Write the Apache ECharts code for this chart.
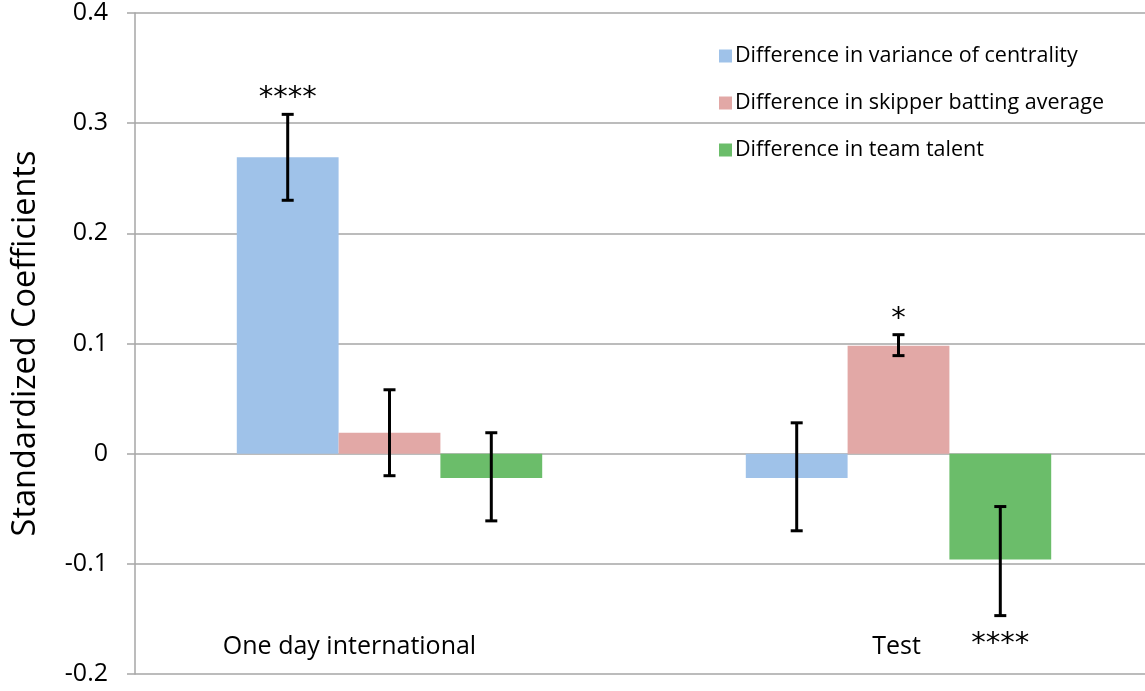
<!DOCTYPE html>
<html><head><meta charset="utf-8">
<script src="https://cdn.jsdelivr.net/npm/echarts@6/dist/echarts.min.js"></script>
<style>html,body{margin:0;padding:0;background:#fff;overflow:hidden}#c{width:1153px;height:691px}</style>
</head><body><div id="c"></div>
<script>
var categories = ['One day international', 'Test'];
var seriesNames = ['Difference in variance of centrality', 'Difference in skipper batting average', 'Difference in team talent'];
var centrality = [0.269, -0.022];
var batting = [0.019, 0.098];
var talent = [-0.022, -0.096];
var centralityErr = [[0.230, 0.308], [-0.070, 0.028]];
var battingErr = [[-0.020, 0.058], [0.089, 0.108]];
var talentErr = [[-0.061, 0.019], [-0.147, -0.048]];
var centralitySig = ['****', ''];
var battingSig = ['', '*'];
var talentSig = ['', '****'];
var yTicks = ['-0.2', '-0.1', '0', '0.1', '0.2', '0.3', '0.4'];

var FONT = '"Open Sans", sans-serif';
var colors = ['#9fc2e9', '#e2a8a6', '#6bbd6a'];
var values = [centrality, batting, talent];
var errs = [centralityErr, battingErr, talentErr];
var sigs = [centralitySig, battingSig, talentSig];
var catGapFrac = 0.40;
var nSeries = 3;

function errSeries(k) {
  var data = errs[k].map(function (e, i) { return [i, e[0], e[1], values[k][i]]; });
  return {
    type: 'custom', name: seriesNames[k] + ' err', z: 10, silent: true,
    data: data,
    encode: { x: 0, y: [1, 2] },
    renderItem: function (params, api) {
      var i = api.value(0);
      var band = api.size([1, 0])[0];
      var bw = band * (1 - catGapFrac) / nSeries;
      var c = api.coord([i, 0])[0] + (k - (nSeries - 1) / 2) * bw;
      var lo = api.coord([i, api.value(1)])[1];
      var hi = api.coord([i, api.value(2)])[1];
      var cap = 6;
      var st = { stroke: '#000', lineWidth: 3 };
      var children = [
        { type: 'line', shape: { x1: c, y1: lo, x2: c, y2: hi }, style: st },
        { type: 'line', shape: { x1: c - cap, y1: lo, x2: c + cap, y2: lo }, style: st },
        { type: 'line', shape: { x1: c - cap, y1: hi, x2: c + cap, y2: hi }, style: st }
      ];
      var s = sigs[k][params.dataIndex];
      if (s) {
        var v = api.value(3);
        var above = v >= 0;
        children.push({
          type: 'text',
          style: {
            text: s, x: c, y: above ? hi - 1 : lo + 14,
            align: 'center', verticalAlign: above ? 'bottom' : 'top',
            fill: '#000', font: '29px "DejaVu Sans"'
          }
        });
      }
      return { type: 'group', children: children };
    }
  };
}

var series = [];
for (var k = 0; k < nSeries; k++) {
  series.push({
    type: 'bar', name: seriesNames[k], data: values[k],
    barGap: '0%', barCategoryGap: (catGapFrac * 100) + '%',
    itemStyle: { color: colors[k] }, silent: true
  });
}
for (var k2 = 0; k2 < nSeries; k2++) series.push(errSeries(k2));

var chart = echarts.init(document.getElementById('c'));
chart.setOption({
  animation: false,
  backgroundColor: '#fff',
  grid: { left: 135, right: 0, top: 13, bottom: 17 },
  legend: {
    data: seriesNames, orient: 'vertical', left: 714, top: 40,
    itemWidth: 13, itemHeight: 13, itemGap: 25,
    icon: 'rect',
    textStyle: { fontFamily: FONT, fontSize: 21.5, color: '#000', padding: [0, 0, 0, -2] }
  },
  xAxis: {
    type: 'category', data: categories,
    axisLine: { show: false }, axisTick: { show: false },
    axisLabel: {
      margin: -40, color: '#000',
      formatter: function (v) { return v === categories[0] ? '{a|' + v + '}' : '{b|' + v + '}'; },
      rich: {
        a: { fontFamily: FONT, fontSize: 25, color: '#000', padding: [0, 80, 0, 0] },
        b: { fontFamily: FONT, fontSize: 25, color: '#000', padding: [0, 4, 0, 0] }
      }
    }
  },
  yAxis: {
    type: 'value', min: -0.2, max: 0.4, interval: 0.1,
    name: 'Standardized Coefficients', nameLocation: 'middle', nameRotate: 90, nameGap: 93,
    nameTextStyle: { fontFamily: FONT, fontSize: 32.5, color: '#000' },
    axisLine: { show: true, lineStyle: { color: '#a6a6a6', width: 1.5 } },
    axisTick: { show: true, length: 8, lineStyle: { color: '#a6a6a6', width: 1.5 } },
    splitLine: { show: true, lineStyle: { color: '#a6a6a6', width: 1.5 } },
    axisLabel: {
      margin: 27, color: '#000', fontFamily: FONT, fontSize: 25,
      formatter: function (v) {
        var idx = Math.round((v + 0.2) / 0.1);
        return yTicks[idx];
      }
    }
  },
  series: series
});
</script></body></html>
